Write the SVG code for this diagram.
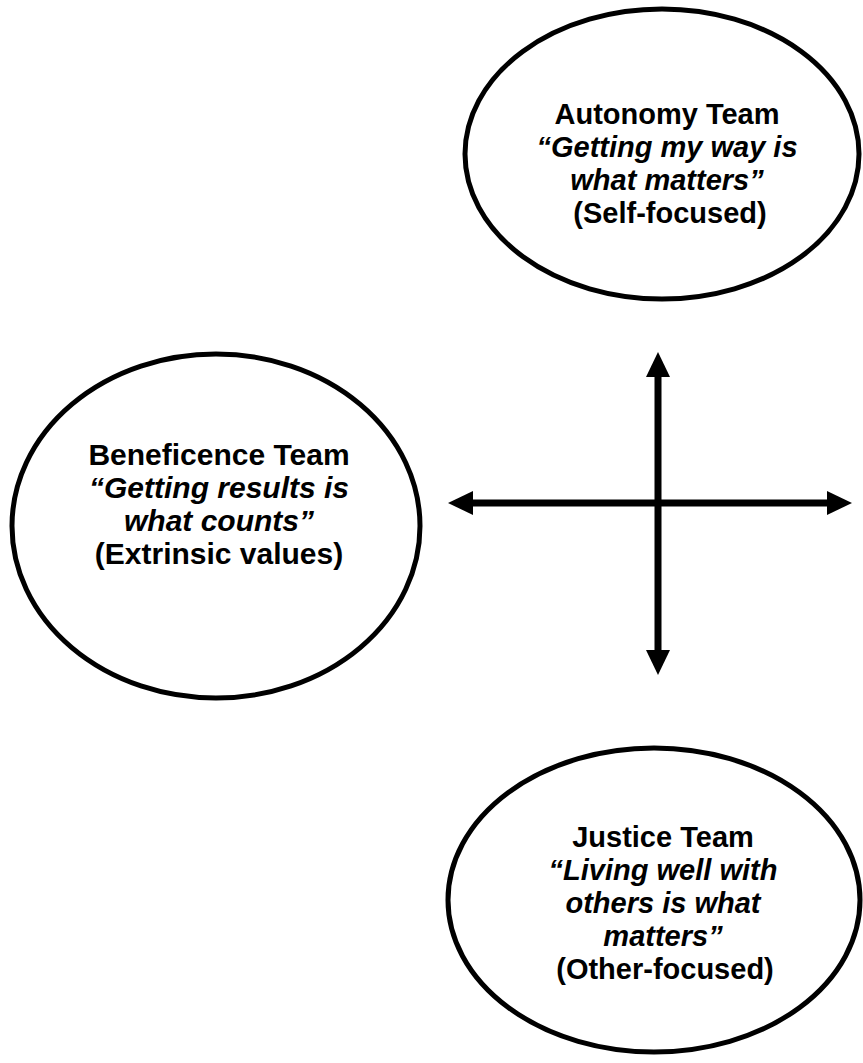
<svg xmlns="http://www.w3.org/2000/svg" width="863" height="1063" viewBox="0 0 863 1063">
<defs>
<style>
.node ellipse{fill:#fff;stroke:#000;stroke-width:5}
text{font-family:"Liberation Sans",Arial,sans-serif;font-size:29px;font-weight:bold;fill:#000;text-anchor:middle}
.q{font-style:italic}
.b text{font-size:30px}
.conn line{stroke:#000;stroke-width:7}
.conn path{fill:#000}
</style>
</defs>
<rect width="863" height="1063" fill="#fff"/>
<g id="autonomy" class="node">
<ellipse cx="662" cy="154" rx="197" ry="145"/>
<text x="667" y="124">Autonomy Team</text>
<text class="q" x="667" y="157">“Getting my way is</text>
<text class="q" x="667" y="190">what matters”</text>
<text x="670" y="223">(Self-focused)</text>
</g>
<g id="beneficence" class="node b">
<ellipse cx="216" cy="526" rx="204" ry="172"/>
<text x="219" y="465">Beneficence Team</text>
<text class="q" x="219" y="498">“Getting results is</text>
<text class="q" x="219" y="531">what counts”</text>
<text x="219" y="564">(Extrinsic values)</text>
</g>
<g id="justice" class="node">
<ellipse cx="654" cy="900" rx="206" ry="152"/>
<text x="663" y="847">Justice Team</text>
<text class="q" x="663" y="880">“Living well with</text>
<text class="q" x="663" y="913">others is what</text>
<text class="q" x="663" y="946">matters”</text>
<text x="665" y="979">(Other-focused)</text>
</g>
<g id="connectors" class="conn">
<line x1="658" y1="372" x2="658" y2="655"/>
<line x1="468" y1="503" x2="832" y2="503"/>
<path d="M658,352 L670,377 L646,377 Z"/>
<path d="M658,675 L670,650 L646,650 Z"/>
<path d="M448,503 L473,491 L473,515 Z"/>
<path d="M852,503 L827,491 L827,515 Z"/>
</g>
</svg>
